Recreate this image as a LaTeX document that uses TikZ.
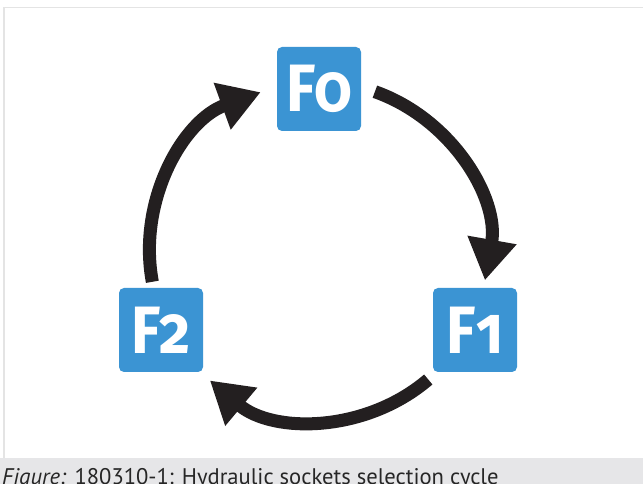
\documentclass[tikz,border=0pt]{standalone}
\usepackage{fontspec}
\usetikzlibrary{arrows.meta}
\newfontfamily\boxfont[Numbers=OldStyle]{Fira Sans}
\newfontfamily\capfont{PT Sans}
\definecolor{boxblue}{HTML}{3B94D3}
\definecolor{arrowblack}{HTML}{231F20}
\definecolor{frameg}{HTML}{E4E4E4}
\definecolor{bandg}{HTML}{E6E6E8}
\tikzset{
  fbox/.style={fill=boxblue, rounded corners=5pt, minimum width=84pt, minimum height=84pt, inner sep=0pt,
    text=white, font=\boxfont\bfseries\fontsize{67}{67}\selectfont},
  cyc/.style={draw=arrowblack, line width=13pt, -{Triangle[length=41pt,width=47pt]}}
}
\begin{document}
\begin{tikzpicture}[x=1pt,y=1pt]
\useasboundingbox (0,0) rectangle (643,484);
\fill[white] (0,0) rectangle (643,484);
% frame
\draw[frameg, line width=1.5pt] (3.75,26) -- (3.75,476.5) -- (643,476.5);
% caption band
\fill[bandg] (0,0) rectangle (643,26);
\node[anchor=base west, inner sep=0pt, font=\capfont\fontsize{22.6}{22.6}\selectfont, text=black!85] (cap) at (2,-1)
  {\textit{Figure:} 180310-1: Hydraulic sockets selection cycle};
% boxes
\node[fbox] (f0) at (319,395) {\scalebox{0.9}[1]{F0}};
\node[fbox] (f1) at (475,154) {\scalebox{0.9}[1]{F1}};
\node[fbox] (f2) at (161,154) {\scalebox{0.9}[1]{F2}};
% cycle arrows
\coordinate (c) at (318.5,233);
\draw[cyc] ([shift={(70.5:169)}]c) arc[start angle=70.5, end angle=-10, radius=169];
\draw[cyc] ([shift={(-49.5:169)}]c) arc[start angle=-49.5, end angle=-130, radius=169];
\draw[cyc] ([shift={(190.5:169)}]c) arc[start angle=190.5, end angle=110, radius=169];
\end{tikzpicture}
\end{document}
